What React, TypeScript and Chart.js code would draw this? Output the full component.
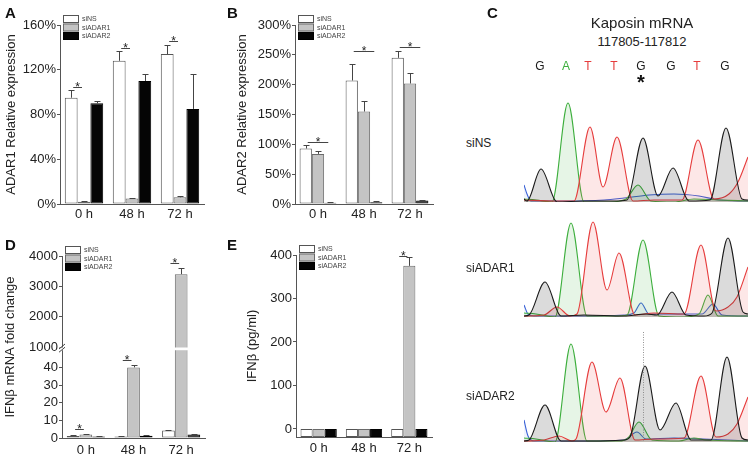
import React, { useEffect, useRef } from 'react';
import { Chart, registerables, LinearScale } from 'chart.js';

Chart.register(...registerables);

const FONT = "'Liberation Sans', Arial, Helvetica, sans-serif";

// ---------------- data ----------------
const categories = ['0 h', '48 h', '72 h'];
const seriesNames = ['siNS', 'siADAR1', 'siADAR2'];

// Panel A: ADAR1 relative expression (%)
const adar1Ticks = [0, 40, 80, 120, 160];
const adar1SiNS = [95, 128, 134];
const adar1SiADAR1 = [2, 5, 6];
const adar1SiADAR2 = [90, 110, 85];
const adar1ErrSiNS = [7, 9, 8];
const adar1ErrSiADAR1 = [0.8, 0.6, 0.8];
const adar1ErrSiADAR2 = [2, 6, 31];
const adar1Sig = [[0, 0, 1, 105], [1, 0, 1, 139], [2, 0, 1, 146]];

// Panel B: ADAR2 relative expression (%)
const adar2Ticks = [0, 50, 100, 150, 200, 250, 300];
const adar2SiNS = [93, 207, 245];
const adar2SiADAR1 = [84, 155, 202];
const adar2SiADAR2 = [2, 3, 6];
const adar2ErrSiNS = [6, 28, 11];
const adar2ErrSiADAR1 = [4, 17, 17];
const adar2ErrSiADAR2 = [1, 2, 1];
const adar2Sig = [[0, 0, 2, 104], [1, 0, 2, 256], [2, 0, 2, 263]];

// Panel D: IFNb mRNA fold change (broken axis)
const ifnTicks = [0, 10, 20, 30, 40, 1000, 2000, 3000, 4000];
const ifnSiNS = [1.2, 0.8, 4.3];
const ifnSiADAR1 = [2, 40, 3400];
const ifnSiADAR2 = [0.8, 1.3, 2];
const ifnErrSiNS = [0.3, 0.2, 0.5];
const ifnErrSiADAR1 = [0.3, 1.2, 200];
const ifnErrSiADAR2 = [0.2, 0.2, 0.2];
const ifnSig = [[0, 0, 1, 5], [1, 0, 1, 44], [2, 0, 1, 3770]];
const ifnBreakLow = 50;
const ifnBreakHigh = 1000;
const ifnMax = 4000;

// Panel E: IFNb protein (pg/ml)
const protTicks = [0, 100, 200, 300, 400];
const protMin = -18.4;
const protSiNS = [0, 0, 0];
const protSiADAR1 = [0, 0, 375];
const protSiADAR2 = [0, 0, 0];
const protErrSiNS = [0, 0, 0];
const protErrSiADAR1 = [0, 0, 20];
const protErrSiADAR2 = [0, 0, 0];
const protSig = [[2, 0, 1, 398]];

// Panel C: chromatogram (scan position, intensity)
const baseCalls = ['G', 'A', 'T', 'T', 'G', 'G', 'T', 'G'];
const basePositions = [16, 42, 64, 90, 117, 147, 173, 201];
const editedBaseIndex = 4;
const scanMax = 224;

const siNS_G = [[0,3],[3,1],[17,33],[33,0],[60,1],[90,1],[103,2],[119,64],[134,6],[149,34],[165,1],[186,2],[202,74],[218,3],[224,2]];
const siNS_A = [[0,3],[12,2],[28,0],[44,99],[60,0],[85,0],[102,3],[114,17],[127,1],[150,0],[170,3],[195,2],[224,1]];
const siNS_T = [[0,2],[30,1],[50,1],[66,75],[79,15],[93,65],[109,1],[130,2],[158,2],[174,62],[190,3],[205,8],[214,20],[224,45]];
const siNS_C = [[0,17],[3,8],[7,1],[40,1],[80,2],[100,4],[125,7],[150,8],[175,6],[195,2],[224,1]];

const siADAR1_G = [[0,1],[5,2],[21,35],[37,1],[60,2],[100,1],[122,3],[133,2],[148,25],[162,2],[180,1],[188,4],[204,79],[219,5],[224,3]];
const siADAR1_A = [[0,4],[12,3],[31,0],[47,94],[63,1],[90,1],[103,2],[119,77],[135,1],[160,0],[175,3],[184,22],[194,1],[224,1]];
const siADAR1_T = [[0,1],[20,2],[33,10],[46,1],[53,3],[69,95],[83,27],[95,64],[111,2],[130,4],[160,3],[177,72],[192,6],[204,10],[213,20],[224,50]];
const siADAR1_C = [[0,12],[4,3],[10,1],[60,1],[100,2],[110,4],[117,14],[125,3],[150,3],[178,3],[189,13],[198,2],[224,1]];

const siADAR2_G = [[0,1],[5,2],[21,37],[37,1],[70,1],[100,2],[106,5],[121,76],[136,12],[152,39],[167,2],[187,2],[203,85],[218,4],[224,2]];
const siADAR2_A = [[0,4],[12,3],[31,0],[47,98],[63,1],[95,1],[104,4],[115,20],[128,2],[155,1],[170,4],[182,2],[224,1]];
const siADAR2_T = [[0,1],[20,2],[35,6],[48,1],[52,3],[68,80],[82,30],[96,64],[111,2],[130,3],[160,4],[177,66],[192,5],[204,8],[213,18],[224,45]];
const siADAR2_C = [[0,22],[4,6],[10,1],[60,1],[100,2],[113,10],[122,3],[150,4],[180,3],[224,1]];
const siADAR2_marker = 119;

// ---------------- styles ----------------
const BAR_FILL = ['#ffffff', '#c4c4c4', '#050505'];
const BAR_EDGE = ['#555555', '#6a6a6a', '#000000'];
const AXIS = '#555555';
const TEXT = '#222222';
const BASE_COLOR: Record<string, string> = { G: '#1a1a1a', A: '#3cae3c', T: '#e63c3c', C: '#3a62d6' };
const BASE_FILL: Record<string, string> = {
  G: 'rgba(40,40,40,0.17)',
  A: 'rgba(60,180,60,0.13)',
  T: 'rgba(240,70,70,0.13)',
  C: 'rgba(60,100,220,0.07)',
};

// ---------------- broken scale ----------------
const LOW_FRAC = 0.485;
const HIGH_FRAC = 0.5;
function brokenFrac(v: number) {
  if (v <= ifnBreakLow) return (v / ifnBreakLow) * LOW_FRAC;
  if (v <= ifnBreakHigh) return LOW_FRAC + ((v - ifnBreakLow) / (ifnBreakHigh - ifnBreakLow)) * (HIGH_FRAC - LOW_FRAC);
  return HIGH_FRAC + ((v - ifnBreakHigh) / (ifnMax - ifnBreakHigh)) * (1 - HIGH_FRAC);
}
function brokenValue(d: number) {
  if (d <= LOW_FRAC) return (d / LOW_FRAC) * ifnBreakLow;
  if (d <= HIGH_FRAC) return ifnBreakLow + ((d - LOW_FRAC) / (HIGH_FRAC - LOW_FRAC)) * (ifnBreakHigh - ifnBreakLow);
  return ifnBreakHigh + ((d - HIGH_FRAC) / (1 - HIGH_FRAC)) * (ifnMax - ifnBreakHigh);
}
class BrokenScale extends LinearScale {
  static id = 'brokenLinear';
  static defaults = (LinearScale as any).defaults;
  getPixelForValue(value: number) {
    return (this as any).getPixelForDecimal(brokenFrac(value));
  }
  getValueForPixel(pixel: number) {
    return brokenValue((this as any).getDecimalForPixel(pixel));
  }
}
Chart.register(BrokenScale as any);

// ---------------- helpers ----------------
type Geo = { left: number; top: number; width: number; height: number; plotLeft: number; plotTop: number; plotRight: number; plotBottom: number };

type BarSpec = {
  values: number[][];
  errors: number[][];
  ticks: number[];
  min: number;
  max: number;
  fmt: (v: number) => string;
  title: string;
  titlePad: number;
  labelPad: number;
  sig: number[][];
  base?: number;
  broken?: boolean;
};

function barConfig(spec: BarSpec, g: Geo): any {
  const decor = {
    id: 'decor',
    afterDatasetsDraw(chart: any) {
      const ctx = chart.ctx;
      const ys = chart.scales.y;
      const area = chart.chartArea;
      ctx.save();
      // axis break
      if (spec.broken) {
        const yHi = ys.getPixelForValue(ifnBreakHigh);
        const yLo = ys.getPixelForValue(ifnBreakLow);
        ctx.fillStyle = '#ffffff';
        ctx.fillRect(area.left - 4, yHi + 0.5, area.right - area.left + 4, yLo - yHi);
        ctx.strokeStyle = '#444';
        ctx.lineWidth = 1;
        ctx.beginPath();
        ctx.moveTo(area.left - 3, yHi + 2);
        ctx.lineTo(area.left + 3, yHi - 3);
        ctx.moveTo(area.left - 3, yLo + 2.5);
        ctx.lineTo(area.left + 3, yLo - 2.5);
        ctx.stroke();
      }
      // error bars
      ctx.strokeStyle = '#444';
      ctx.lineWidth = 1;
      spec.values.forEach((vals, i) => {
        const meta = chart.getDatasetMeta(i);
        vals.forEach((v, j) => {
          const e = spec.errors[i][j];
          if (!e) return;
          const el = meta.data[j];
          const x = Math.round(el.x) + 0.5;
          const y0 = ys.getPixelForValue(v);
          const y1 = Math.round(ys.getPixelForValue(v + e)) + 0.5;
          ctx.beginPath();
          ctx.moveTo(x, y0);
          ctx.lineTo(x, y1);
          ctx.moveTo(x - 3, y1);
          ctx.lineTo(x + 3, y1);
          ctx.stroke();
        });
      });
      // significance marks
      ctx.fillStyle = '#222';
      ctx.font = `12px ${FONT}`;
      ctx.textAlign = 'center';
      ctx.textBaseline = 'alphabetic';
      spec.sig.forEach(([cat, from, to, val]) => {
        const x1 = chart.getDatasetMeta(from).data[cat].x + 2;
        const x2 = chart.getDatasetMeta(to).data[cat].x - 2;
        const y = Math.round(ys.getPixelForValue(val)) + 0.5;
        ctx.beginPath();
        ctx.moveTo(x1, y);
        ctx.lineTo(x2, y);
        ctx.stroke();
        ctx.fillText('*', (x1 + x2) / 2, y + 3.5);
      });
      // mini legend
      const lx = area.left + 3;
      const ly = area.top - 10;
      ctx.font = `7px ${FONT}`;
      ctx.textAlign = 'left';
      ctx.textBaseline = 'middle';
      seriesNames.forEach((name, i) => {
        const y = ly + i * 8.5;
        ctx.fillStyle = BAR_FILL[i];
        ctx.fillRect(lx, y, 16, 8);
        ctx.strokeStyle = BAR_EDGE[i];
        ctx.strokeRect(lx + 0.5, y + 0.5, 15, 7);
        ctx.fillStyle = '#444';
        ctx.fillText(name, lx + 19, y + 4.5);
      });
      ctx.restore();
    },
  };

  return {
    type: 'bar',
    data: {
      labels: categories,
      datasets: seriesNames.map((name, i) => ({
        label: name,
        data: spec.values[i],
        backgroundColor: BAR_FILL[i],
        borderColor: BAR_EDGE[i],
        borderWidth: 1,
        borderSkipped: false,
        categoryPercentage: 0.8,
        barPercentage: 1.0,
        ...(spec.base !== undefined ? { base: spec.base } : {}),
      })),
    },
    options: {
      responsive: false,
      animation: false,
      events: [],
      layout: {
        autoPadding: false,
        padding: { left: 0, top: g.plotTop - g.top, right: g.left + g.width - g.plotRight, bottom: 0 },
      },
      plugins: { legend: { display: false }, tooltip: { enabled: false } },
      scales: {
        x: {
          type: 'category',
          offset: true,
          grid: { display: false, drawTicks: false },
          border: { display: true, color: AXIS, width: 1 },
          ticks: { color: TEXT, font: { family: FONT, size: 13 }, padding: spec.labelPad, maxRotation: 0 },
          afterFit: (s: any) => { s.height = g.top + g.height - g.plotBottom; },
        },
        y: {
          type: spec.broken ? 'brokenLinear' : 'linear',
          min: spec.min,
          max: spec.max,
          grid: { display: true, drawOnChartArea: false, drawTicks: true, tickLength: 3, color: AXIS },
          border: { display: true, color: AXIS, width: 1 },
          ticks: { color: TEXT, font: { family: FONT, size: 13 }, padding: 1, autoSkip: false, callback: (v: any) => spec.fmt(Number(v)) },
          afterBuildTicks: (s: any) => { s.ticks = spec.ticks.map((v) => ({ value: v })); },
          title: { display: true, text: spec.title, color: TEXT, font: { family: FONT, size: 13 }, padding: { top: spec.titlePad, bottom: 0 } },
          afterFit: (s: any) => { s.width = g.plotLeft - g.left; },
        },
      },
    },
    plugins: [decor],
  };
}

type TraceSpec = { channels: [string, number[][]][]; letters?: boolean; marker?: number };

function traceConfig(spec: TraceSpec, g: Geo): any {
  const deco = {
    id: 'traceDeco',
    afterDatasetsDraw(chart: any) {
      const ctx = chart.ctx;
      const xs = chart.scales.x;
      const area = chart.chartArea;
      ctx.save();
      if (spec.marker !== undefined) {
        const x = Math.round(xs.getPixelForValue(spec.marker)) + 0.5;
        ctx.strokeStyle = 'rgba(120,120,120,0.8)';
        ctx.setLineDash([1, 1.5]);
        ctx.lineWidth = 1;
        ctx.beginPath();
        ctx.moveTo(x, area.top);
        ctx.lineTo(x, area.bottom);
        ctx.stroke();
        ctx.setLineDash([]);
      }
      if (spec.letters) {
        ctx.textAlign = 'center';
        ctx.textBaseline = 'middle';
        ctx.font = `12px ${FONT}`;
        baseCalls.forEach((b, i) => {
          ctx.fillStyle = BASE_COLOR[b];
          ctx.fillText(b, xs.getPixelForValue(basePositions[i]), area.top - 25);
        });
        ctx.fillStyle = '#111';
        ctx.font = `bold 20px ${FONT}`;
        ctx.textBaseline = 'alphabetic';
        ctx.fillText('*', xs.getPixelForValue(basePositions[editedBaseIndex]), area.top - 3);
      }
      ctx.restore();
    },
  };
  return {
    type: 'line',
    data: {
      datasets: spec.channels.map(([b, pts]) => ({
        label: b,
        data: pts.map(([x, y]) => ({ x, y })),
        borderColor: BASE_COLOR[b],
        backgroundColor: BASE_FILL[b],
        fill: 'origin',
        borderWidth: 1.1,
        pointRadius: 0,
        cubicInterpolationMode: 'monotone',
      })),
    },
    options: {
      responsive: false,
      animation: false,
      events: [],
      layout: {
        autoPadding: false,
        padding: { left: g.plotLeft - g.left, top: g.plotTop - g.top, right: g.left + g.width - g.plotRight, bottom: g.top + g.height - g.plotBottom },
      },
      plugins: { legend: { display: false }, tooltip: { enabled: false } },
      scales: {
        x: { type: 'linear', min: 0, max: scanMax, display: false },
        y: { min: 0, max: 110, display: false },
      },
    },
    plugins: [deco],
  };
}

function ChartBox({ g, make }: { g: Geo; make: () => any }) {
  const ref = useRef<HTMLCanvasElement>(null);
  useEffect(() => {
    const chart = new Chart(ref.current as HTMLCanvasElement, make());
    return () => chart.destroy();
  }, []);
  return (
    <canvas
      ref={ref}
      width={g.width}
      height={g.height}
      style={{ position: 'absolute', left: g.left, top: g.top, width: g.width, height: g.height }}
    />
  );
}

// ---------------- layout ----------------
const geoA: Geo = { left: 0, top: 0, width: 215, height: 230, plotLeft: 60, plotTop: 25, plotRight: 204, plotBottom: 204 };
const geoB: Geo = { left: 232, top: 0, width: 210, height: 230, plotLeft: 295, plotTop: 25, plotRight: 433, plotBottom: 204 };
const geoD: Geo = { left: 0, top: 232, width: 215, height: 224, plotLeft: 62, plotTop: 256, plotRight: 205, plotBottom: 438 };
const geoE: Geo = { left: 232, top: 232, width: 210, height: 224, plotLeft: 296, plotTop: 255, plotRight: 432, plotBottom: 437 };
const geoT1: Geo = { left: 520, top: 55, width: 230, height: 150, plotLeft: 524, plotTop: 92, plotRight: 748, plotBottom: 202 };
const geoT2: Geo = { left: 520, top: 200, width: 230, height: 120, plotLeft: 524, plotTop: 207, plotRight: 748, plotBottom: 317 };
const geoT3: Geo = { left: 520, top: 325, width: 230, height: 120, plotLeft: 524, plotTop: 332, plotRight: 748, plotBottom: 442 };

const specA: BarSpec = {
  values: [adar1SiNS, adar1SiADAR1, adar1SiADAR2],
  errors: [adar1ErrSiNS, adar1ErrSiADAR1, adar1ErrSiADAR2],
  ticks: adar1Ticks, min: 0, max: 160, fmt: (v) => `${v}%`,
  title: 'ADAR1 Relative expression', titlePad: 4, labelPad: 3, sig: adar1Sig,
};
const specB: BarSpec = {
  values: [adar2SiNS, adar2SiADAR1, adar2SiADAR2],
  errors: [adar2ErrSiNS, adar2ErrSiADAR1, adar2ErrSiADAR2],
  ticks: adar2Ticks, min: 0, max: 300, fmt: (v) => `${v}%`,
  title: 'ADAR2 Relative expression', titlePad: 3, labelPad: 3, sig: adar2Sig,
};
const specD: BarSpec = {
  values: [ifnSiNS, ifnSiADAR1, ifnSiADAR2],
  errors: [ifnErrSiNS, ifnErrSiADAR1, ifnErrSiADAR2],
  ticks: ifnTicks, min: 0, max: ifnMax, fmt: (v) => `${v}`,
  title: 'IFNβ mRNA fold change', titlePad: 3, labelPad: 5, sig: ifnSig, broken: true,
};
const specE: BarSpec = {
  values: [protSiNS, protSiADAR1, protSiADAR2],
  errors: [protErrSiNS, protErrSiADAR1, protErrSiADAR2],
  ticks: protTicks, min: protMin, max: 400, fmt: (v) => `${v}`,
  title: 'IFNβ (pg/ml)', titlePad: 13, labelPad: 4, sig: protSig, base: protMin,
};

const traceNS: TraceSpec = { channels: [['G', siNS_G], ['T', siNS_T], ['A', siNS_A], ['C', siNS_C]], letters: true };
const traceA1: TraceSpec = { channels: [['G', siADAR1_G], ['T', siADAR1_T], ['A', siADAR1_A], ['C', siADAR1_C]] };
const traceA2: TraceSpec = { channels: [['G', siADAR2_G], ['T', siADAR2_T], ['A', siADAR2_A], ['C', siADAR2_C]], marker: siADAR2_marker };

const panelLetter = (ch: string, left: number, top: number) => (
  <div key={ch} style={{ position: 'absolute', left, top, font: `bold 15px ${FONT}`, lineHeight: '15px', color: '#111' }}>{ch}</div>
);

export default function App() {
  return (
    <div style={{ position: 'absolute', left: 0, top: 0, width: 750, height: 456, background: '#fff', overflow: 'hidden', fontFamily: FONT }}>
      <ChartBox g={geoA} make={() => barConfig(specA, geoA)} />
      <ChartBox g={geoB} make={() => barConfig(specB, geoB)} />
      <ChartBox g={geoD} make={() => barConfig(specD, geoD)} />
      <ChartBox g={geoE} make={() => barConfig(specE, geoE)} />
      <ChartBox g={geoT1} make={() => traceConfig(traceNS, geoT1)} />
      <ChartBox g={geoT2} make={() => traceConfig(traceA1, geoT2)} />
      <ChartBox g={geoT3} make={() => traceConfig(traceA2, geoT3)} />
      {panelLetter('A', 5, 5)}
      {panelLetter('B', 227, 5)}
      {panelLetter('C', 487, 5)}
      {panelLetter('D', 5, 237)}
      {panelLetter('E', 227, 237)}
      <div style={{ position: 'absolute', left: 542, top: 14, width: 200, textAlign: 'center', fontSize: 15, lineHeight: '18px', color: TEXT }}>Kaposin mRNA</div>
      <div style={{ position: 'absolute', left: 542, top: 34, width: 200, textAlign: 'center', fontSize: 13, lineHeight: '16px', color: TEXT }}>117805-117812</div>
      <div style={{ position: 'absolute', left: 466, top: 136, fontSize: 12, lineHeight: '14px', color: TEXT }}>siNS</div>
      <div style={{ position: 'absolute', left: 466, top: 261, fontSize: 12, lineHeight: '14px', color: TEXT }}>siADAR1</div>
      <div style={{ position: 'absolute', left: 466, top: 389, fontSize: 12, lineHeight: '14px', color: TEXT }}>siADAR2</div>
    </div>
  );
}
